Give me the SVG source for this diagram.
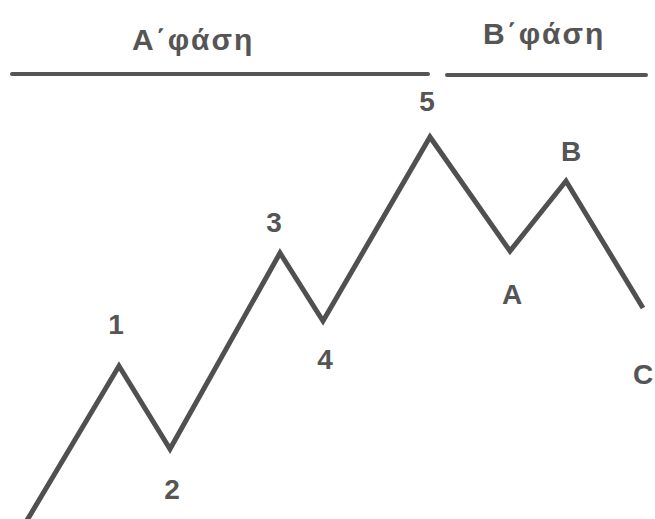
<svg xmlns="http://www.w3.org/2000/svg" width="655" height="519" viewBox="0 0 655 519">
<style>
.t{font-family:"Liberation Sans",Arial,sans-serif;font-weight:bold;fill:#555;}
.h{font-size:30px;letter-spacing:2px;}
.l{font-size:28px;text-anchor:middle;}
.ln{stroke:#555;stroke-width:4;fill:none;stroke-linecap:round;}
.w{stroke:#505050;stroke-width:5;fill:none;stroke-linejoin:miter;}
</style>
<rect width="655" height="519" fill="#fff"/>
<g id="phaseA">
<text class="t h" x="132" y="50">Α΄φάση</text>
</g>
<g id="phaseB">
<text class="t h" x="483" y="44">Β΄φάση</text>
</g>
<g id="connectors">
<line class="ln" x1="12" y1="74" x2="428" y2="74"/>
<line class="ln" x1="447" y1="75" x2="646" y2="75"/>
<polyline class="w" points="26,522 119,366 170,449 280,253 323,321 430,137 510,251 566,181 643,308"/>
</g>
<g id="n1"><text class="t l" x="116" y="334">1</text></g>
<g id="n2"><text class="t l" x="172" y="499">2</text></g>
<g id="n3"><text class="t l" x="274" y="232">3</text></g>
<g id="n4"><text class="t l" x="325" y="369">4</text></g>
<g id="n5"><text class="t l" x="427" y="111">5</text></g>
<g id="nA"><text class="t l" x="512" y="304">A</text></g>
<g id="nB"><text class="t l" x="571" y="161">B</text></g>
<g id="nC"><text class="t l" x="643" y="384">C</text></g>
</svg>
